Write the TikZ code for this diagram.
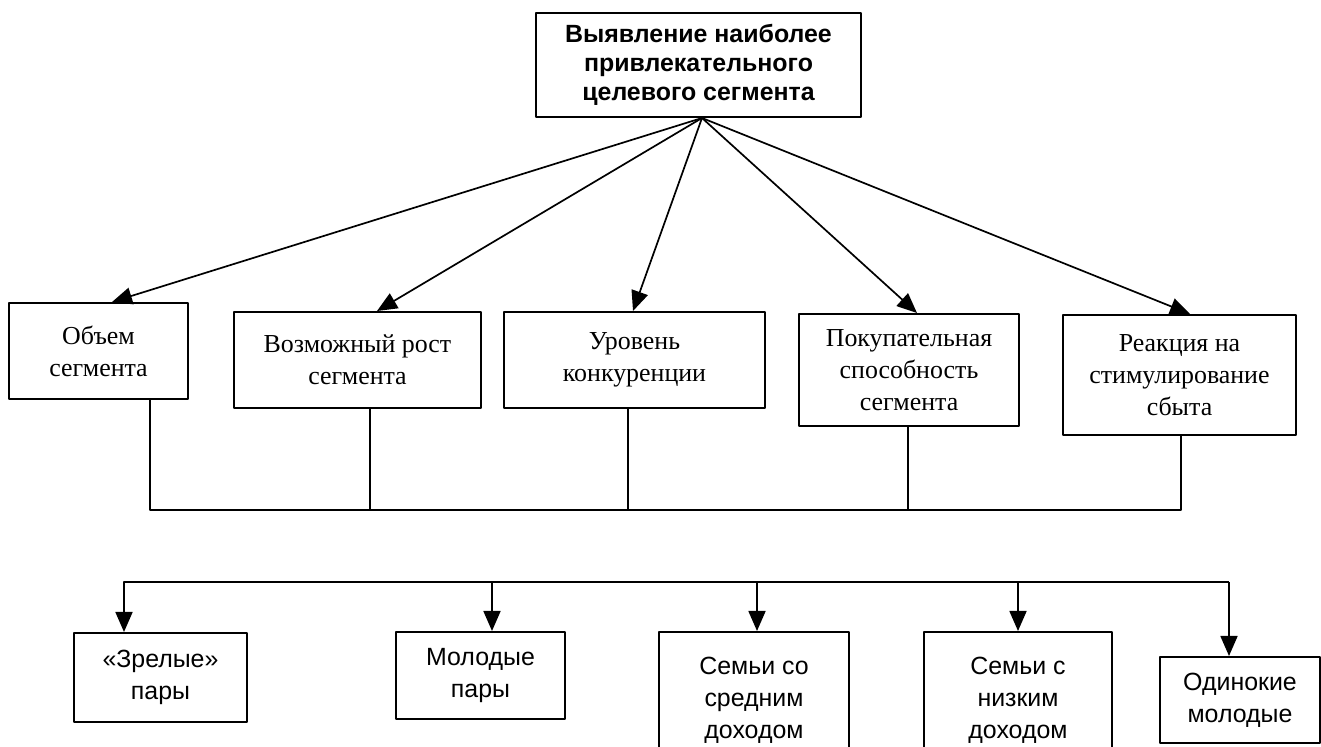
\documentclass[tikz,border=0pt]{standalone}
\usepackage{fontspec}
\setmainfont{Liberation Serif}
\setsansfont{Liberation Sans}
\usetikzlibrary{arrows.meta}
\begin{document}
\begin{tikzpicture}[>={Triangle[length=20bp,width=17bp]},line join=bevel,
  goalbox/.style={draw,line width=2bp,inner sep=0pt,align=center,font=\sffamily\bfseries\fontsize{25}{29}\selectfont},
  critbox/.style={draw,line width=2bp,inner sep=0pt,align=center,font=\fontsize{26}{32}\selectfont},
  segbox/.style={draw,line width=2bp,inner sep=0pt,align=center,font=\sffamily\fontsize{25}{32}\selectfont},
  link/.style={black,line width=1.7bp},
]
\useasboundingbox (0bp,0bp) rectangle (1321bp,747bp);
%%
\node (node_goal) at (698.5bp,682bp) [goalbox,minimum width=325bp,minimum height=104bp] {Выявление наиболее\\привлекательного\\целевого сегмента};
  \node (node_volume) at (98.5bp,396bp) [critbox,minimum width=179bp,minimum height=96bp] {Объем\\сегмента};
  \node (node_growth) at (357.5bp,387bp) [critbox,minimum width=247bp,minimum height=96bp] {Возможный рост\\сегмента};
  \node (node_rivals) at (634.5bp,387bp) [critbox,minimum width=261bp,minimum height=96bp] {Уровень\\конкуренции};
  \node (node_power) at (909bp,377bp) [critbox,minimum width=220bp,minimum height=112bp] {Покупательная\\способность\\сегмента};
  \node (node_promo) at (1179.5bp,372bp) [critbox,minimum width=233bp,minimum height=120bp] {Реакция на\\стимулирование\\сбыта};
  \node (node_mature) at (160.5bp,69.5bp) [segbox,minimum width=173bp,minimum height=89bp] {«Зрелые»\\пары};
  \node (node_young) at (480.5bp,71.5bp) [segbox,minimum width=169bp,minimum height=87bp] {Молодые\\пары};
  \node (node_middle) at (754bp,47bp) [segbox,minimum width=190bp,minimum height=136bp] {Семьи со\\средним\\доходом};
  \node (node_low) at (1018bp,47bp) [segbox,minimum width=188bp,minimum height=136bp] {Семьи с\\низким\\доходом};
  \node (node_single) at (1240bp,47bp) [segbox,minimum width=160bp,minimum height=86bp] {Одинокие\\молодые};
%
\coordinate (bus_top_l) at (150bp,237bp);
  \coordinate (bus_top_r) at (1181bp,237bp);
  \coordinate (bus_low_l) at (124bp,165bp);
  \coordinate (bus_low_r) at (1229bp,165bp);
%
\draw [link,->] ([xshift=3.5bp]node_goal.south) -- ([xshift=13.5bp]node_volume.north);
  \draw [link,->] ([xshift=3.5bp]node_goal.south) -- ([xshift=19.5bp]node_growth.north);
  \draw [link,->] ([xshift=3.5bp]node_goal.south) -- ([xshift=-1.5bp]node_rivals.north);
  \draw [link,->] ([xshift=3.5bp]node_goal.south) -- ([xshift=8bp]node_power.north);
  \draw [link,->] ([xshift=3.5bp]node_goal.south) -- ([xshift=10.5bp]node_promo.north);
%
\draw [link] ([xshift=51.5bp]node_volume.south) -- (bus_top_l) -- (bus_top_r) -- ([xshift=1.5bp]node_promo.south);
  \draw [link] ([xshift=12.5bp]node_growth.south) coordinate (g) -- (g |- bus_top_l);
  \draw [link] ([xshift=-6.5bp]node_rivals.south) coordinate (r) -- (r |- bus_top_l);
  \draw [link] ([xshift=-1bp]node_power.south) coordinate (p) -- (p |- bus_top_l);
%
\draw [link,->] (bus_low_r) -- (bus_low_l) -- ([xshift=-36.5bp]node_mature.north);
  \draw [link,->] ([xshift=11.5bp]node_young.north |- bus_low_l) -- ([xshift=11.5bp]node_young.north);
  \draw [link,->] ([xshift=3bp]node_middle.north |- bus_low_l) -- ([xshift=3bp]node_middle.north);
  \draw [link,->] (node_low.north |- bus_low_l) -- (node_low.north);
  \draw [link,->] (bus_low_r) -- ([xshift=-11bp]node_single.north);
%
\end{tikzpicture}
\end{document}
